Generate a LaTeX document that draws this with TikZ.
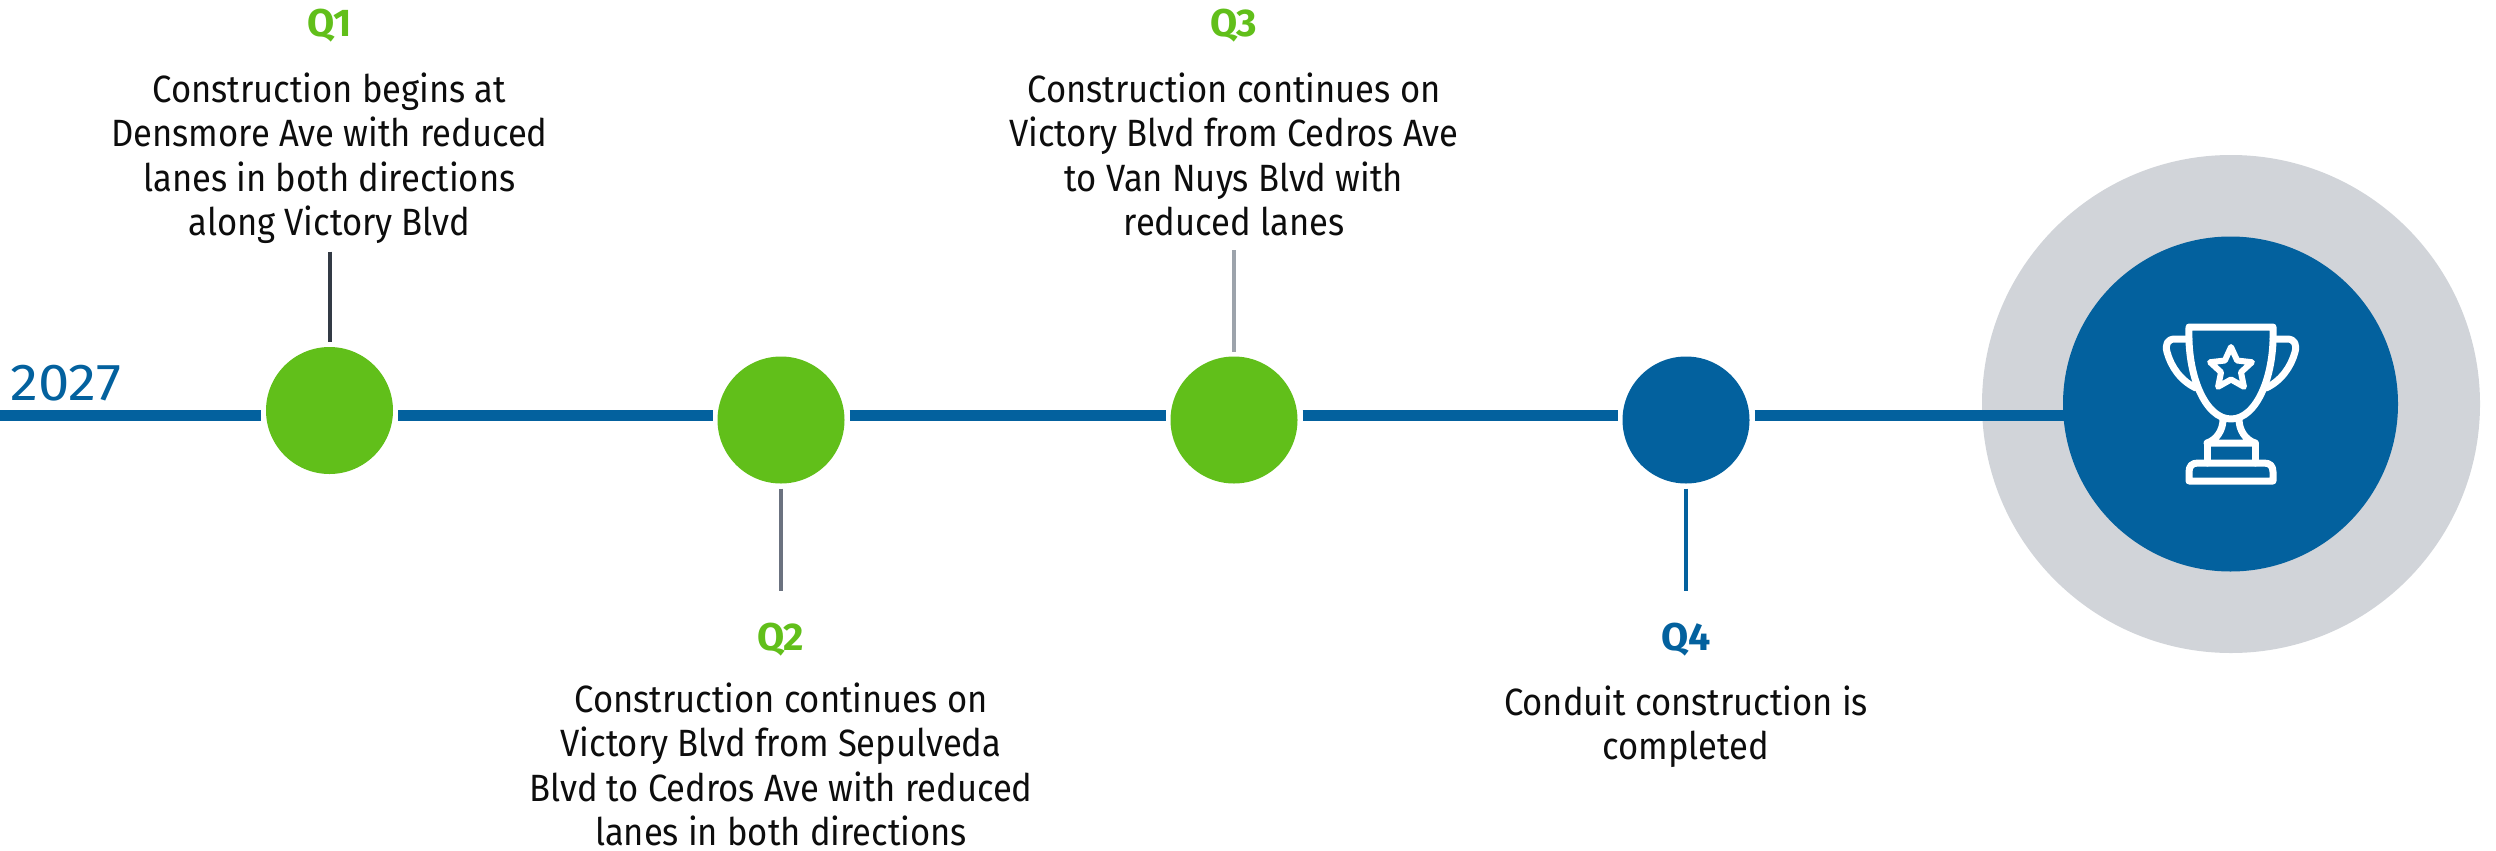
\documentclass[tikz,border=0pt]{standalone}
\usepackage{fontspec}
\setmainfont[FakeStretch=0.91]{Fira Sans}
\newfontfamily\labelfont[FakeStretch=1.02]{Fira Sans}
\newfontfamily\yearfont[FakeStretch=1.08]{Fira Sans}
\usetikzlibrary{shapes.geometric}
\definecolor{roadblue}{HTML}{03619E}
\definecolor{roadgreen}{HTML}{61BF1A}
\definecolor{ringgrey}{HTML}{D1D4D9}
\tikzset{every picture/.style={line width=0.75pt},
	dot/.style={circle,draw=none,inner sep=0pt,minimum size=95.25pt,outer sep=3.75pt},
	axisline/.style={draw=roadblue,line width=8.25pt},
	tick/.style={line width=3pt},
	qlabel/.style={font=\labelfont\fontsize{29}{30}\selectfont\bfseries,inner sep=0.75pt},
	step text/.style={font=\fontsize{28.5}{33.4}\selectfont,align=center,anchor=north,inner sep=0pt,text=black!95},
	cupline/.style={draw=white,line width=5.25pt,line join=round,line cap=round}}
\begin{document}
\begin{tikzpicture}[x=0.75pt,y=0.75pt,yscale=-1,xscale=1]
	\useasboundingbox (0,0) rectangle (2496,850);
	
	%Shape: Circle
	\node (ring) [circle,fill=ringgrey,inner sep=0pt,minimum size=373.5pt] at (2231,404) {};
	\coordinate (axisstart) at (0,415.5);
	
	%Shape: Circle
	\node (q1dot) [dot,fill=roadgreen] at (329.5,410.5) {};
	\node (q2dot) [dot,fill=roadgreen] at (781,420) {};
	\node (q3dot) [dot,fill=roadgreen] at (1234,420) {};
	\node (q4dot) [dot,fill=roadblue] at (1686,420) {};
	
	\draw [axisline] (axisstart) -- (q1dot.west |- axisstart) ;
	\draw [axisline] (q1dot.east |- axisstart) -- (q2dot.west |- axisstart) ;
	\draw [axisline] (q2dot.east |- axisstart) -- (q3dot.west |- axisstart) ;
	\draw [axisline] (q3dot.east |- axisstart) -- (q4dot.west |- axisstart) ;
	\draw [axisline] (q4dot.east |- axisstart) -- (2231,415.5) ;
	
	%Shape: Circle
	\node (cup) [circle,fill=roadblue,inner sep=0pt,minimum size=251.25pt] at (2230.5,404) {};
	
	\coordinate (q1tip) at (329.5,251.5);
	\coordinate (q2tip) at (781,591);
	\coordinate (q3tip) at (1234,250);
	\coordinate (q4tip) at (1686,591);
	\draw [tick,color={rgb,255:red,51;green,58;blue,69}] (q1tip) -- (q1dot.north) ;
	\draw [tick,color={rgb,255:red,107;green,114;blue,128}] (q2dot.south) -- (q2tip) ;
	\draw [tick,color={rgb,255:red,156;green,163;blue,171}] (q3tip) -- (q3dot.north) ;
	\draw [tick,color=roadblue] (q4dot.south) -- (q4tip) ;
	
	\node (yearlabel) [font=\yearfont\fontsize{39}{40}\selectfont,text=roadblue,anchor=west,inner sep=0.75pt] at (9,383) {2027};
	
	\node (q1label) [qlabel,text=roadgreen] at (329.5,26) {Q1};
	\node (q2label) [qlabel,text=roadgreen] at (781,640) {Q2};
	\node (q3label) [qlabel,text=roadgreen] at (1234,26) {Q3};
	\node (q4label) [qlabel,text=roadblue] at (1686,640) {Q4};
	
	\node (q1text) [step text] at (329.5,72) {Construction begins at\\Densmore Ave with reduced\\lanes in both directions\\along Victory Blvd};
	\node (q2text) [step text] at (781,682) {Construction continues on\\Victory Blvd from Sepulveda\\Blvd to Cedros Ave with reduced\\lanes in both directions};
	\node (q3text) [step text] at (1234,72) {Construction continues on\\Victory Blvd from Cedros Ave\\to Van Nuys Blvd with\\reduced lanes};
	\node (q4text) [step text] at (1686,685) {Conduit construction is\\completed};
	
	%Shape: Trophy
	\draw [cupline] (2189,327) -- (2273,327) (2189,327) .. controls (2187,375) and (2205,419) .. (2231,419) .. controls (2257,419) and (2275,375) .. (2273,327) ;
	\draw [cupline] (2189,339) -- (2175,339) .. controls (2167,339) and (2165,345) .. (2167,352) .. controls (2171,367) and (2181,381) .. (2196,388) ;
	\draw [cupline] (2273,339) -- (2287,339) .. controls (2295,339) and (2297,345) .. (2295,352) .. controls (2291,367) and (2281,381) .. (2266,388) ;
	\draw [cupline] (2223,419) .. controls (2223,431) and (2216,440) .. (2207,443) -- (2255,443) .. controls (2246,440) and (2239,431) .. (2239,419) ;
	\draw [cupline] (2207,443) -- (2207,463) (2255,443) -- (2255,463) ;
	\draw [cupline] (2189,481) -- (2189,472) .. controls (2189,466) and (2192,463) .. (2198,463) -- (2264,463) .. controls (2270,463) and (2273,466) .. (2273,472) -- (2273,481) -- cycle ;
	\node (cupstar) [star,star points=5,star point ratio=2.1,draw=white,line width=4.5pt,line join=round,inner sep=0pt,minimum size=33pt] at (2231,369) {};
\end{tikzpicture}
\end{document}
